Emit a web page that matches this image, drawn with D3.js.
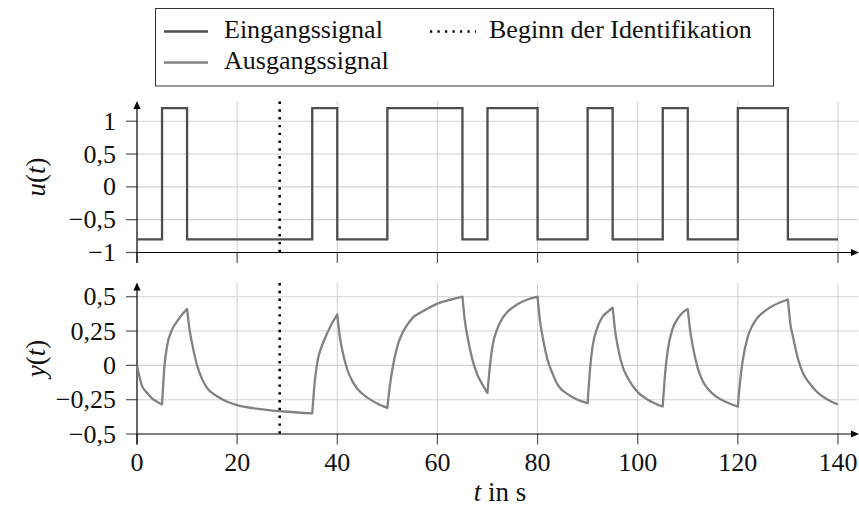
<!DOCTYPE html>
<html>
<head>
<meta charset="utf-8">
<script src="https://cdn.jsdelivr.net/npm/d3@7/dist/d3.min.js"></script>
<style>
  html, body { margin: 0; padding: 0; background: #fff; }
  svg { display: block; }
  text { font-family: "Liberation Serif", "Times New Roman", serif; fill: #111; }
</style>
</head>
<body>
<svg id="chart" width="859" height="509"></svg>
<script>
// ---------- data ----------
const xTicks = [0, 20, 40, 60, 80, 100, 120, 140];
const uTicks = [-1, -0.5, 0, 0.5, 1];
const uTickLabels = ["\u22121", "\u22120,5", "0", "0,5", "1"];
const yTicks = [-0.5, -0.25, 0, 0.25, 0.5];
const yTickLabels = ["\u22120,5", "\u22120,25", "0", "0,25", "0,5"];

// input signal (step changes)
const uTime = [0, 5, 10, 35, 40, 50, 65, 70, 80, 90, 95, 105, 110, 120, 130, 140];
const uValue = [-0.8, 1.2, -0.8, 1.2, -0.8, 1.2, -0.8, 1.2, -0.8, 1.2, -0.8, 1.2, -0.8, 1.2, -0.8, -0.8];

// output signal
const yTime = [0, 1, 2, 3, 4, 5, 5.5, 6, 7, 8, 9, 10, 10.5, 11, 12, 13, 14, 16, 18, 20, 25, 30, 35,
  35.5, 36, 37, 38, 39, 40, 40.5, 41, 42, 43, 44, 46, 48, 50,
  50.5, 51, 52, 53, 54, 55, 57, 60, 63, 65, 65.5, 66, 67, 68, 69, 70,
  70.5, 71, 72, 73, 74, 76, 78, 80, 80.5, 81, 82, 83, 84, 86, 88, 90,
  90.5, 91, 92, 93, 94, 95, 95.5, 96, 97, 98, 99, 100, 102, 105,
  105.5, 106, 107, 108, 109, 110, 110.5, 111, 112, 113, 114, 116, 118, 120,
  120.5, 121, 122, 123, 124, 125, 127, 130, 130.5, 131, 132, 133, 134, 136, 138, 140];
const yValue = [0, -0.15, -0.2, -0.24, -0.265, -0.285, 0.0, 0.14, 0.26, 0.32, 0.37, 0.41, 0.26, 0.16, 0.0, -0.1, -0.165, -0.225, -0.265, -0.29, -0.32, -0.338, -0.35,
  -0.12, 0.02, 0.15, 0.235, 0.31, 0.37, 0.21, 0.11, -0.03, -0.115, -0.17, -0.235, -0.278, -0.31,
  -0.15, -0.03, 0.14, 0.235, 0.296, 0.344, 0.392, 0.45, 0.482, 0.5, 0.32, 0.21, 0.04, -0.07, -0.14, -0.2,
  0.0, 0.14, 0.27, 0.344, 0.39, 0.445, 0.48, 0.5, 0.32, 0.21, 0.04, -0.06, -0.14, -0.21, -0.25, -0.275,
  -0.02, 0.14, 0.28, 0.355, 0.39, 0.42, 0.25, 0.14, -0.01, -0.09, -0.15, -0.195, -0.25, -0.3,
  -0.05, 0.11, 0.27, 0.34, 0.385, 0.41, 0.25, 0.14, -0.02, -0.115, -0.17, -0.235, -0.272, -0.3,
  -0.1, 0.04, 0.21, 0.295, 0.35, 0.385, 0.434, 0.48, 0.3, 0.21, 0.05, -0.055, -0.115, -0.2, -0.25, -0.285];

const identStart = 28.5;
const xDomain = [0, 144];
const uDomain = [-1, 1.3];
const yDomain = [-0.5, 0.6];

const legendLabels = ["Eingangssignal", "Ausgangssignal", "Beginn der Identifikation"];

// ---------- styles ----------
const cIn = "#4d4d4d", cOut = "#828282", cGrid = "#d2d2d2", cTick = "#555";

const svg = d3.select("#chart");
const x = d3.scaleLinear().domain(xDomain).range([137, 858]);
const yU = d3.scaleLinear().domain(uDomain).range([252.5, 101.5]);
const yY = d3.scaleLinear().domain(yDomain).range([434, 283]);

function panel(yScale, ticks, labels, title, showXLabels) {
  const g = svg.append("g");
  const y0 = yScale(yScale.domain()[0]);
  const y1 = yScale.range()[1];
  const xr = x.range();
  // grid
  g.selectAll(".vg").data(xTicks.filter(d => d > 0)).enter().append("line")
    .attr("x1", d => x(d)).attr("x2", d => x(d)).attr("y1", y1).attr("y2", y0)
    .attr("stroke", cGrid).attr("stroke-width", 1.1);
  g.selectAll(".hg").data(ticks.filter(d => d > yScale.domain()[0])).enter().append("line")
    .attr("x1", xr[0]).attr("x2", xr[1]).attr("y1", d => yScale(d)).attr("y2", d => yScale(d))
    .attr("stroke", cGrid).attr("stroke-width", 1.1);
  // ticks
  g.selectAll(".xt").data(xTicks).enter().append("line")
    .attr("x1", d => x(d)).attr("x2", d => x(d)).attr("y1", y0).attr("y2", y0 + 10.5)
    .attr("stroke", cTick).attr("stroke-width", 1.2);
  g.selectAll(".yt").data(ticks).enter().append("line")
    .attr("x1", xr[0] - 11).attr("x2", xr[0]).attr("y1", d => yScale(d)).attr("y2", d => yScale(d))
    .attr("stroke", cTick).attr("stroke-width", 1.2);
  // tick labels
  g.selectAll(".yl").data(ticks).enter().append("text")
    .attr("x", 116).attr("y", (d) => yScale(d) + 8.5)
    .attr("text-anchor", "end").attr("font-size", 26)
    .text((d, i) => labels[i]);
  if (showXLabels) {
    g.selectAll(".xl").data(xTicks).enter().append("text")
      .attr("x", d => x(d)).attr("y", y0 + 37)
      .attr("text-anchor", "middle").attr("font-size", 26)
      .text(d => d);
  }
  // axes
  g.append("line").attr("x1", xr[0]).attr("x2", xr[1] - 2).attr("y1", y0).attr("y2", y0)
    .attr("stroke", "#000").attr("stroke-width", 1.2);
  g.append("line").attr("x1", xr[0]).attr("x2", xr[0]).attr("y1", y0 + 10.5).attr("y2", y1 + 4)
    .attr("stroke", "#000").attr("stroke-width", 1.2);
  g.append("path").attr("d", `M${xr[1] + 1},${y0} L${xr[1] - 7},${y0 - 3.6} L${xr[1] - 7},${y0 + 3.6} Z`).attr("fill", "#000");
  g.append("path").attr("d", `M${xr[0]},${y1 - 0.5} L${xr[0] - 3.6},${y1 + 7.5} L${xr[0] + 3.6},${y1 + 7.5} Z`).attr("fill", "#000");
  // identification line
  g.append("line").attr("x1", x(identStart)).attr("x2", x(identStart)).attr("y1", y1).attr("y2", y0)
    .attr("stroke", "#000").attr("stroke-width", 2.6).attr("stroke-dasharray", "2.4,5.4");
  // y title
  const tt = g.append("text").attr("transform", `translate(45,${(y0 + y1) / 2}) rotate(-90)`)
    .attr("text-anchor", "middle").attr("font-size", 27);
  tt.append("tspan").attr("font-style", "italic").text(title);
  tt.append("tspan").text("(");
  tt.append("tspan").attr("font-style", "italic").text("t");
  tt.append("tspan").text(")");
  return g;
}

const gTop = panel(yU, uTicks, uTickLabels, "u", false);
const gBot = panel(yY, yTicks, yTickLabels, "y", true);

// input signal
const uData = uTime.map((t, i) => [t, uValue[i]]);
gTop.append("path").datum(uData)
  .attr("d", d3.line().x(d => x(d[0])).y(d => yU(d[1])).curve(d3.curveStepAfter))
  .attr("fill", "none").attr("stroke", cIn).attr("stroke-width", 2.3).attr("stroke-linejoin", "miter");

// output signal: smooth within each segment between switches, sharp corners at switches
const switches = uTime.slice(1, -1);
const yData = yTime.map((t, i) => [t, yValue[i]]);
const segs = [];
let cur = [];
yData.forEach(p => {
  cur.push(p);
  if (switches.includes(p[0])) { segs.push(cur); cur = [p]; }
});
if (cur.length > 1) segs.push(cur);
const segLine = d3.line().x(d => x(d[0])).y(d => yY(d[1])).curve(d3.curveMonotoneX);
const dStr = segs.map((s, i) => { const p = segLine(s); return i === 0 ? p : "L" + p.slice(1); }).join("");
gBot.append("path").attr("d", dStr)
  .attr("fill", "none").attr("stroke", cOut).attr("stroke-width", 2.3).attr("stroke-linejoin", "round");

// x-axis title
const xt = svg.append("text").attr("x", 500).attr("y", 501).attr("text-anchor", "middle").attr("font-size", 27);
xt.append("tspan").attr("font-style", "italic").text("t");
xt.append("tspan").text(" in s");

// ---------- legend ----------
const lg = svg.append("g");
lg.append("rect").attr("x", 155.5).attr("y", 8.5).attr("width", 618).attr("height", 77.5)
  .attr("fill", "#fff").attr("stroke", "#333").attr("stroke-width", 1);
const legendItems = [
  { x0: 164, x1: 208, y: 31.5, tx: 224, color: cIn, dash: null, w: 2.3 },
  { x0: 164, x1: 208, y: 62.5, tx: 224, color: cOut, dash: null, w: 2.3 },
  { x0: 430, x1: 476, y: 31.5, tx: 489, color: "#000", dash: "2.2,5.3", w: 2.4 }
];
legendItems.forEach((it, i) => {
  lg.append("line").attr("x1", it.x0).attr("x2", it.x1).attr("y1", it.y).attr("y2", it.y)
    .attr("stroke", it.color).attr("stroke-width", it.w).attr("stroke-dasharray", it.dash);
  lg.append("text").attr("x", it.tx).attr("y", it.y + 6.5).attr("font-size", 26).text(legendLabels[i]);
});
</script>
</body>
</html>
